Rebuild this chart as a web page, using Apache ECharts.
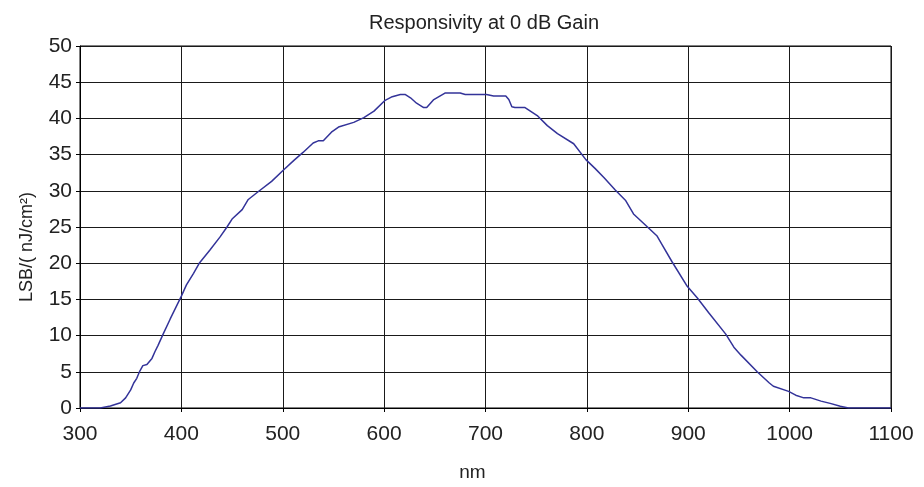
<!DOCTYPE html>
<html>
<head>
<meta charset="utf-8">
<script src="https://cdn.jsdelivr.net/npm/echarts@6/dist/echarts.min.js"></script>
<style>
html,body{margin:0;padding:0;background:#fff;}
#chart{width:924px;height:487px;}
</style>
</head>
<body>
<div id="chart"></div>
<script>
const titleText = 'Responsivity at 0 dB Gain';
const xName = 'nm';
const yName = 'LSB/( nJ/cm\u00B2)';
const wavelengths = [300,320,330,340,345,350,353,356,359,362,366,371,374,377,382,389,400,405,412,418,428,438,445,450,460,466,476,489,501,511,520,530,535,540,548,555,570,580,590,601,608,616,621,626,632,639,642,649,660,675,680,701,708,720,723,726,729,739,751,761,771,787,799,808,817,828,838,846,859,869,874,884,899,909,920,937,945,952,968,980,984,999,1006,1014,1021,1031,1040,1050,1058,1100];
const responsivity = [0,0,0.27,0.73,1.4,2.5,3.45,4.1,5.1,5.85,6.0,6.85,7.8,8.65,10.2,12.3,15.45,17.0,18.6,20.07,21.8,23.6,25.0,26.1,27.4,28.8,29.9,31.3,32.9,34.2,35.3,36.6,36.9,36.9,38.1,38.8,39.45,40.1,41.0,42.5,43.0,43.3,43.3,42.85,42.1,41.5,41.5,42.6,43.5,43.5,43.3,43.3,43.1,43.1,42.6,41.6,41.5,41.5,40.4,39.0,37.9,36.5,34.3,33.1,31.8,30.1,28.7,26.8,25.1,23.8,22.6,20.2,16.8,15.2,13.2,10.2,8.4,7.3,5.0,3.45,3.0,2.3,1.77,1.4,1.4,0.95,0.64,0.23,0,0];

const seriesData = wavelengths.map((w, i) => [w, responsivity[i]]);
const FONT = '"Liberation Sans", Arial, sans-serif';
const plain = v => String(v);
const chart = echarts.init(document.getElementById('chart'), null, {renderer: 'canvas'});
chart.setOption({
  animation: false,
  backgroundColor: '#fff',
  title: {
    text: titleText,
    left: 479, top: 8, textAlign: 'center',
    textStyle: {fontFamily: FONT, fontSize: 20, fontWeight: 'normal', color: '#222'}
  },
  grid: {left: 80, right: 33, top: 46, bottom: 73, show: true, borderColor: '#000', borderWidth: 1, containLabel: false},
  xAxis: {
    type: 'value', min: 300, max: 1100, interval: 100,
    name: xName, nameLocation: 'middle', nameGap: 55,
    nameTextStyle: {fontFamily: FONT, fontSize: 19, color: '#222', padding: [0, 26, 0, 0]},
    axisLine: {show: true, lineStyle: {color: '#000', width: 1}},
    axisTick: {show: true, length: 4, lineStyle: {color: '#000'}},
    axisLabel: {fontFamily: FONT, fontSize: 21, color: '#222', margin: 16, formatter: plain},
    splitLine: {show: true, lineStyle: {color: '#1a1a1a', width: 1}}
  },
  yAxis: {
    type: 'value', min: 0, max: 50, interval: 5,
    name: yName, nameLocation: 'middle', nameGap: 44, nameRotate: 90,
    nameTextStyle: {fontFamily: FONT, fontSize: 18, color: '#222', padding: [0, 40, 0, 0]},
    axisLine: {show: true, lineStyle: {color: '#000', width: 1}},
    axisTick: {show: true, length: 4, lineStyle: {color: '#000'}},
    axisLabel: {fontFamily: FONT, fontSize: 21, color: '#222', margin: 8, formatter: plain},
    splitLine: {show: true, lineStyle: {color: '#1a1a1a', width: 1}}
  },
  series: [{
    type: 'line', data: seriesData, showSymbol: false, smooth: false,
    lineStyle: {color: '#333399', width: 1.5}, itemStyle: {color: '#333399'}
  }]
});
</script>
</body>
</html>
